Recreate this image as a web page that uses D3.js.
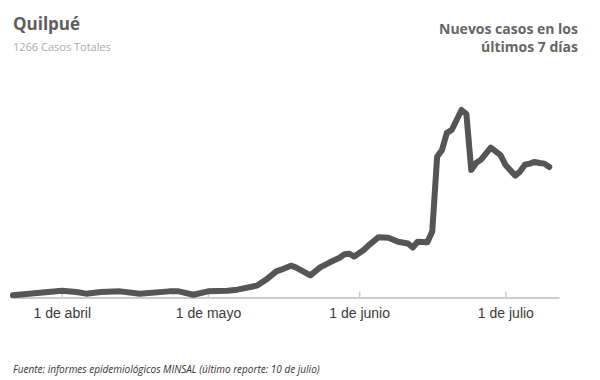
<!DOCTYPE html>
<html>
<head>
<meta charset="utf-8">
<script src="https://cdn.jsdelivr.net/npm/d3@7"></script>
<style>
  body { margin: 0; background: #fff; }
  #chart { width: 600px; height: 380px; }
</style>
</head>
<body>
<div id="chart"></div>
<script>
// Datos: nuevos casos en los últimos 7 días (Quilpué)
const fechas = [
  '2020-03-22', '2020-03-27', '2020-04-01', '2020-04-04', '2020-04-06', '2020-04-09',
  '2020-04-13', '2020-04-17', '2020-04-23', '2020-04-25', '2020-04-28', '2020-05-01',
  '2020-05-05', '2020-05-07', '2020-05-11', '2020-05-13', '2020-05-15', '2020-05-16',
  '2020-05-18', '2020-05-19', '2020-05-22', '2020-05-24', '2020-05-26', '2020-05-28',
  '2020-05-29', '2020-05-30', '2020-05-31', '2020-06-02', '2020-06-03', '2020-06-05',
  '2020-06-07', '2020-06-09', '2020-06-11', '2020-06-12', '2020-06-13', '2020-06-15',
  '2020-06-16', '2020-06-17', '2020-06-18', '2020-06-19', '2020-06-20', '2020-06-22',
  '2020-06-23', '2020-06-24', '2020-06-25', '2020-06-26', '2020-06-28', '2020-06-30',
  '2020-07-01', '2020-07-03', '2020-07-04', '2020-07-05', '2020-07-06', '2020-07-07',
  '2020-07-08', '2020-07-09', '2020-07-10'
];
const casos7d = [
  2, 6, 10, 8, 5, 8,
  9, 5, 9, 9, 3, 9,
  10, 12, 19, 30, 44, 47,
  54, 51, 37, 51, 60, 68,
  74, 75, 70, 82, 90, 104,
  103, 96, 93, 86, 96, 95,
  114, 245, 257, 287, 292, 327,
  320, 222, 234, 240, 261, 248,
  231, 212, 219, 231, 233, 236,
  234, 233, 227
];
const ticks = ['2020-04-01', '2020-05-01', '2020-06-01', '2020-07-01'];
const tickLabels = ['1 de abril', '1 de mayo', '1 de junio', '1 de julio'];

const titulo = 'Quilpué';
const subtitulo = '1266 Casos Totales';
const leyenda = ['Nuevos casos en los', 'últimos 7 días'];
const fuente = 'Fuente: informes epidemiológicos MINSAL (último reporte: 10 de julio)';

const width = 600, height = 380;
const parse = d3.utcParse('%Y-%m-%d');
const data = fechas.map((f, i) => ({ date: parse(f), value: casos7d[i] }));

const svg = d3.select('#chart').append('svg')
  .attr('width', width)
  .attr('height', height);

const x = d3.scaleUtc()
  .domain([parse('2020-03-22'), parse('2020-07-12')])
  .range([13, 559]);

const y = d3.scaleLinear()
  .domain([0, d3.max(casos7d)])
  .range([296.5, 110]);

// Eje X
const tickDates = ticks.map(parse);
const axis = svg.append('g')
  .attr('transform', 'translate(0,297.5)')
  .call(d3.axisBottom(x)
    .tickValues(tickDates)
    .tickFormat((d, i) => tickLabels[i])
    .tickSizeInner(-6)
    .tickSizeOuter(0)
    .tickPadding(11));

axis.select('.domain').attr('stroke', '#cccccc').attr('stroke-width', 2);
axis.selectAll('.tick line').attr('stroke', '#cccccc').attr('stroke-width', 1.5);
axis.selectAll('.tick text')
  .attr('fill', '#3a3a3a')
  .style('font-family', '"Liberation Sans", Arial, sans-serif')
  .style('font-size', '14px');

// Línea
const line = d3.line()
  .x(d => x(d.date))
  .y(d => y(d.value));

svg.append('path')
  .datum(data)
  .attr('fill', 'none')
  .attr('stroke', '#555555')
  .attr('stroke-width', 6)
  .attr('stroke-linejoin', 'round')
  .attr('stroke-linecap', 'round')
  .attr('d', line);

// Textos
svg.append('text')
  .attr('x', 13).attr('y', 30)
  .attr('fill', '#5e5e5e')
  .style('font-family', '"Open Sans", sans-serif')
  .style('font-weight', 700)
  .style('font-size', '17px')
  .text(titulo);

svg.append('text')
  .attr('x', 13).attr('y', 51)
  .attr('fill', '#ababab')
  .style('font-family', '"Open Sans", sans-serif')
  .style('font-size', '11px')
  .text(subtitulo);

svg.append('text')
  .attr('text-anchor', 'end')
  .attr('fill', '#666')
  .style('font-family', '"Open Sans", sans-serif')
  .style('font-weight', 700)
  .style('font-size', '14px')
  .selectAll('tspan')
  .data(leyenda)
  .enter().append('tspan')
  .attr('x', 578)
  .attr('y', (d, i) => 34 + i * 17.5)
  .text(d => d);

svg.append('text')
  .attr('x', 13).attr('y', 373)
  .attr('fill', '#333')
  .style('font-family', '"Open Sans", sans-serif')
  .style('font-style', 'italic')
  .style('font-size', '10px')
  .text(fuente);
</script>
</body>
</html>
